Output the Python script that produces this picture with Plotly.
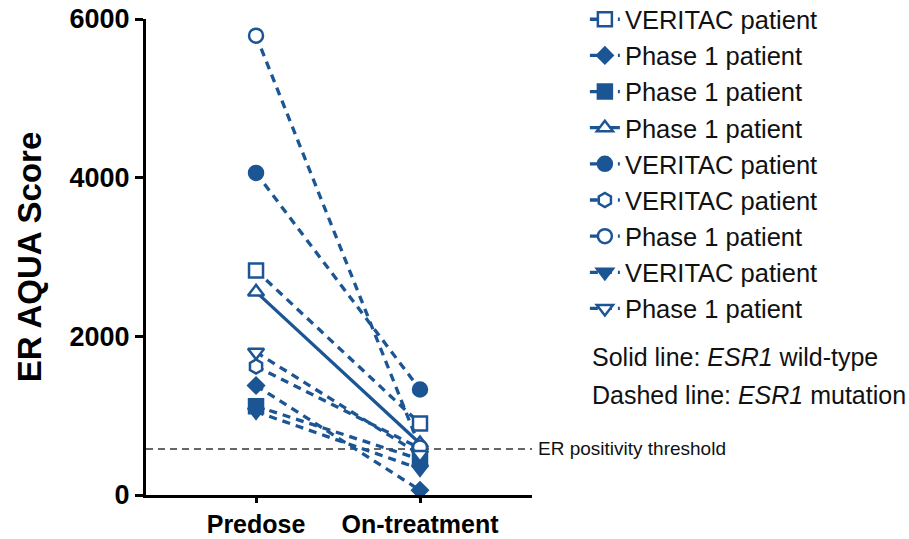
import plotly.graph_objects as go

categories = ["Predose", "On-treatment"]
names = ["VERITAC patient", "Phase 1 patient", "Phase 1 patient", "Phase 1 patient",
         "VERITAC patient", "VERITAC patient", "Phase 1 patient", "VERITAC patient",
         "Phase 1 patient"]
predose = [2830, 1380, 1120, 2560, 4060, 1620, 5790, 1050, 1800]
on_treatment = [900, 60, 450, 650, 1330, 590, 600, 330, 510]
threshold = 580
y_ticks = [0, 2000, 4000, 6000]

# styles
symbols = ["square", "diamond", "square", "triangle-up", "circle", "hexagon",
           "circle", "triangle-down", "triangle-down"]
filled = [False, True, True, False, True, False, False, True, False]
solid = [False, False, False, True, False, False, False, False, False]

BLUE = "#1c5594"
FONT = "Liberation Sans, Arial, Helvetica, sans-serif"

fig = go.Figure()
xpos = [0, 1]
for i, nm in enumerate(names):
    fig.add_trace(go.Scatter(
        x=xpos, y=[predose[i], on_treatment[i]],
        mode="lines+markers", name=nm, legendgroup=f"g{i}",
        line=dict(color=BLUE, width=3.3, dash="solid" if solid[i] else "8px,6px"),
        marker=dict(symbol=symbols[i], size=14 if symbols[i] != "diamond" else 12,
                    color=BLUE if filled[i] else "white",
                    line=dict(color=BLUE, width=2.5)),
        cliponaxis=False,
    ))

fig.add_shape(type="line", xref="paper", yref="y", x0=0, x1=1, y0=threshold, y1=threshold,
              line=dict(color="#666666", width=2, dash="7px,5px"), layer="below")
fig.add_annotation(xref="paper", yref="y", x=1.0, y=threshold, xanchor="left", yanchor="middle",
                   xshift=4, text="ER positivity threshold", showarrow=False,
                   font=dict(family=FONT, size=19, color="#111111"))
fig.add_annotation(xref="paper", yref="paper", x=1.150, y=0.29, xanchor="left", yanchor="middle",
                   text="Solid line: <i>ESR1</i> wild-type", showarrow=False, align="left",
                   font=dict(family=FONT, size=25, color="#111111"))
fig.add_annotation(xref="paper", yref="paper", x=1.150, y=0.21, xanchor="left", yanchor="middle",
                   text="Dashed line: <i>ESR1</i> mutation", showarrow=False, align="left",
                   font=dict(family=FONT, size=25, color="#111111"))

fig.update_layout(
    width=909, height=539,
    margin=dict(l=146, r=377, t=19, b=44, autoexpand=False),
    plot_bgcolor="white", paper_bgcolor="white",
    showlegend=True,
    legend=dict(x=1.137, y=1.048, xanchor="left", yanchor="top",
                font=dict(family=FONT, size=25.5, color="#111111"),
                tracegroupgap=0, traceorder="normal", bgcolor="rgba(0,0,0,0)",
                maxheight=530),
    xaxis=dict(range=[-0.671, 1.683], tickvals=xpos, ticktext=categories,
               showgrid=False, zeroline=False, showline=True, linecolor="black", linewidth=3,
               ticks="outside", ticklen=5, tickwidth=3, tickcolor="black",
               tickfont=dict(family=FONT, size=25, color="black", weight="bold")),
    yaxis=dict(range=[0, 6000], tickvals=y_ticks, showgrid=False, zeroline=False,
               showline=True, linecolor="black", linewidth=3,
               ticks="outside", ticklen=8, tickwidth=3, tickcolor="black",
               tickfont=dict(family=FONT, size=27, color="black", weight="bold"),
               title=dict(text="ER AQUA Score", standoff=18,
                          font=dict(family=FONT, size=33, color="black", weight="bold"))),
)

fig.write_html("out.html", config={"displayModeBar": False},
               post_script="document.body.style.margin='0';document.body.style.overflow='hidden';")
